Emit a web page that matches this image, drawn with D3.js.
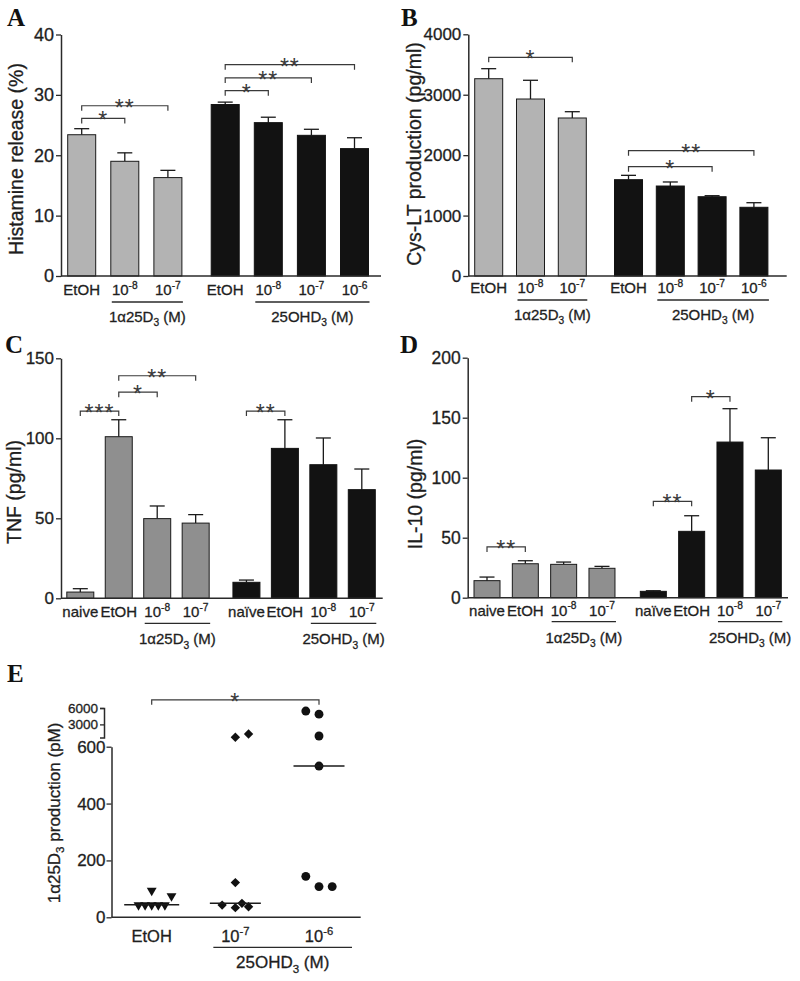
<!DOCTYPE html>
<html><head><meta charset="utf-8">
<script src="https://cdn.jsdelivr.net/npm/d3@7"></script>
<style>body{margin:0;background:#fff}svg{display:block}text{white-space:pre}</style>
</head><body><svg id="c" width="800" height="981"></svg>
<script>
// ---------------- DATA ----------------
// Panel A – Histamine release (%)
const aLabels = ["EtOH","10^-8","10^-7","EtOH","10^-8","10^-7","10^-6"];
const aGroupOf = [0,0,0,1,1,1,1];
const aMeans = [23.4,19.0,16.3,28.4,25.4,23.3,21.1];
const aErrors = [1.0,1.4,1.2,0.4,0.9,1.0,1.8];
const aTicks = [0,10,20,30,40];
const aGroupLabels = ["1α25D_3 (M)","25OHD_3 (M)"];
const aGroupSpans = [[1,2],[4,6]];
const aBrackets = [[0,1,26.1,"*"],[0,2,28.2,"**"],[3,4,30.7,"*"],[3,5,32.8,"**"],[3,6,35.0,"**"]];
const aTitle = "Histamine release (%)";

// Panel B – Cys-LT production (pg/ml)
const bLabels = ["EtOH","10^-8","10^-7","EtOH","10^-8","10^-7","10^-6"];
const bGroupOf = [0,0,0,1,1,1,1];
const bMeans = [3265,2929,2615,1594,1489,1312,1137];
const bErrors = [166,310,104,72,67,17,76];
const bTicks = [0,1000,2000,3000,4000];
const bGroupLabels = ["1α25D_3 (M)","25OHD_3 (M)"];
const bGroupSpans = [[1,2],[4,6]];
const bBrackets = [[0,2,3619,"*"],[3,5,1809,"*"],[3,6,2074,"**"]];
const bTitle = "Cys-LT production (pg/ml)";

// Panel C – TNF (pg/ml)
const cLabels = ["naive","EtOH","10^-8","10^-7","naïve","EtOH","10^-8","10^-7"];
const cGroupOf = [0,0,0,0,1,1,1,1];
const cMeans = [3.9,101,49.8,47,10,93.7,83.5,67.9];
const cErrors = [2.1,10.6,7.9,5.3,1.4,17.9,16.7,12.9];
const cTicks = [0,50,100,150];
const cGroupLabels = ["1α25D_3 (M)","25OHD_3 (M)"];
const cGroupSpans = [[2,3],[6,7]];
const cBrackets = [[0,1,117,"***"],[1,2,128.8,"*"],[1,3,139.1,"**"],[4,5,117,"**"]];
const cTitle = "TNF (pg/ml)";

// Panel D – IL-10 (pg/ml)
const dLabels = ["naive","EtOH","10^-8","10^-7","naïve","EtOH","10^-8","10^-7"];
const dGroupOf = [0,0,0,0,1,1,1,1];
const dMeans = [14.2,28.3,27.8,24.5,5.3,55.3,129.7,106.4];
const dErrors = [3.0,2.5,1.9,1.6,0.5,13.0,27.8,26.9];
const dTicks = [0,50,100,150,200];
const dGroupLabels = ["1α25D_3 (M)","25OHD_3 (M)"];
const dGroupSpans = [[2,3],[6,7]];
const dBrackets = [[0,1,42.3,"**"],[4,5,80.3,"**"],[5,6,167.5,"*"]];
const dTitle = "IL-10 (pg/ml)";

// Panel E – 1α25D3 production (pM), scatter with medians
const eCategories = ["EtOH","10^-7","10^-6"];
const eEtohValues = [94,75,43,43,43,43,43];
const eEtohSlots  = [0,3,-2,-1,0,1,2];
const e7Values = [640,1240,122,43,34,49,37];
const e7Slots  = [0,2,0,-2,0,1,2];
const e6Values = [5445,4869,877,532,144,108,108];
const e6Slots  = [-2,0,0,0,-2,0,2];
const eMedians = [44,49,532];
const eLowerTicks = [0,200,400,600];
const eUpperTicks = [3000,6000];
const eGroupLabel = "25OHD_3 (M)";
const eBracket = [0,2,7500,"*"];
const eTitle = "1α25D_3 production (pM)";

// ---------------- DRAWING ----------------
const FONT = "'Liberation Sans', Arial, Helvetica, sans-serif";
const INK = "#1e1e1e", AX = "#2a2a2a", BR = "#3a3a3a";
const TSTROKE = 0.3;
const svg = d3.select("#c");
const fmt = d3.format("d");

function rich(textSel, str, size){
  const re = /\^(\S+)|_(\S+?)(?=\s|$)|([^\^_]+)/g;
  let m, shift = 0;
  while((m = re.exec(str))){
    if(m[1] !== undefined){
      textSel.append("tspan").attr("font-size", size*0.68).attr("dy", -size*0.42 - shift).text(m[1]);
      shift = -size*0.42;
    } else if(m[2] !== undefined){
      textSel.append("tspan").attr("font-size", size*0.68).attr("dy", size*0.28 - shift).text(m[2]);
      shift = size*0.28;
    } else {
      textSel.append("tspan").attr("font-size", size).attr("dy", -shift).text(m[3]);
      shift = 0;
    }
  }
  return textSel;
}
function label(g, x, y, str, size, opts={}){
  const t = g.append("text").attr("x",x).attr("y",y).attr("font-family",FONT)
    .attr("font-size",size).attr("fill",INK).attr("stroke",INK).attr("stroke-width",TSTROKE)
    .attr("text-anchor",opts.anchor||"middle");
  if(opts.rotate) t.attr("transform",`rotate(-90,${x},${y})`);
  return rich(t, str, size);
}
function panelLetter(x, y, s){
  svg.append("text").attr("x",x).attr("y",y).attr("font-family","'Liberation Serif','Times New Roman',serif")
    .attr("font-weight","bold").attr("font-size",25).attr("fill","#111").text(s);
}
function bracket(g, x1, x2, yy, s){
  g.append("path").attr("d",`M${x1},${yy+5}V${yy}H${x2}V${yy+5}`)
    .attr("fill","none").attr("stroke",BR).attr("stroke-width",1.2);
  g.append("text").attr("x",(x1+x2)/2).attr("y",yy+10).attr("text-anchor","middle")
    .attr("font-family",FONT).attr("font-size",23).attr("letter-spacing",1).attr("fill","#3a3a3a").text(s);
}
function styleAxis(a, size){
  a.attr("font-family",FONT).attr("font-size",size);
  a.select(".domain").attr("stroke",AX).attr("stroke-width",1.5);
  a.selectAll(".tick line").attr("stroke",AX).attr("stroke-width",1.3);
  a.selectAll(".tick text").attr("fill",INK).attr("stroke",INK).attr("stroke-width",TSTROKE);
}

function barPanel(p){
  const g = svg.append("g");
  const n = p.means.length;
  const x = d3.scaleLinear().domain([0, n-1+p.gapFrac]).range(p.centers);
  const pos = i => x(i + (i >= p.gapAt ? p.gapFrac : 0));
  const y = d3.scaleLinear().domain(p.yDomain).range(p.yRange);
  const colors = [p.gray, "#121212"];

  // error bars (upper only)
  const eb = g.selectAll("g.eb").data(p.means).join("g").attr("class","eb");
  eb.append("line").attr("x1",(d,i)=>pos(i)).attr("x2",(d,i)=>pos(i))
    .attr("y1",d=>y(d)).attr("y2",(d,i)=>y(d+p.errors[i]))
    .attr("stroke","#1a1a1a").attr("stroke-width",1.3);
  eb.append("line").attr("x1",(d,i)=>pos(i)-7.5).attr("x2",(d,i)=>pos(i)+7.5)
    .attr("y1",(d,i)=>y(d+p.errors[i])).attr("y2",(d,i)=>y(d+p.errors[i]))
    .attr("stroke","#1a1a1a").attr("stroke-width",1.3);

  // bars
  g.selectAll("rect.bar").data(p.means).join("rect").attr("class","bar")
    .attr("x",(d,i)=>pos(i)-p.barW/2).attr("width",p.barW)
    .attr("y",d=>y(d)).attr("height",d=>y(0)-y(d))
    .attr("fill",(d,i)=>colors[p.groupOf[i]])
    .attr("stroke",(d,i)=>p.groupOf[i]===0?"#1a1a1a":"#121212").attr("stroke-width",1);

  // y axis
  const ax = g.append("g").attr("transform",`translate(${p.axisX[0]},0)`)
    .call(d3.axisLeft(y).tickValues(p.ticks).tickFormat(fmt).tickSize(5).tickPadding(2).tickSizeOuter(0));
  styleAxis(ax, p.tickFont||17);

  // x axis line
  g.append("path").attr("d",d3.line()([[p.axisX[0],y(0)],[p.axisX[1],y(0)]]))
    .attr("stroke",AX).attr("stroke-width",1.5).attr("fill","none");

  // category labels
  p.labels.forEach((s,i)=> label(g, pos(i), y(0)+p.labelDy, s, 15));

  // group underlines + labels
  p.groupSpans.forEach(([a,b],k)=>{
    const x1 = pos(a)-p.barW/2+1, x2 = pos(b)+p.barW/2+1;
    g.append("path").attr("d",d3.line()([[x1,y(0)+p.lineDy],[x2,y(0)+p.lineDy]]))
      .attr("stroke",AX).attr("stroke-width",1.3);
    label(g, (x1+x2)/2, y(0)+p.groupDy, p.groupLabels[k], 15);
  });

  // significance brackets
  p.brackets.forEach(([a,b,lv,s]) => bracket(g, pos(a), pos(b), y(lv), s));

  // y title
  label(g, p.titlePos[0], p.titlePos[1], p.title, 19.5, {rotate:true});
}

barPanel({means:aMeans, errors:aErrors, groupOf:aGroupOf, labels:aLabels, groupLabels:aGroupLabels,
  groupSpans:aGroupSpans, brackets:aBrackets, title:aTitle, ticks:aTicks, tickFont:18,
  yDomain:[0,40], yRange:[276,34.5], centers:[81.7,354.5], gapAt:3, gapFrac:0.33,
  axisX:[61,381], barW:28, gray:"#b3b3b3", labelDy:19, lineDy:26, groupDy:46, titlePos:[23,159]});

barPanel({means:bMeans, errors:bErrors, groupOf:bGroupOf, labels:bLabels, groupLabels:bGroupLabels,
  groupSpans:bGroupSpans, brackets:bBrackets, title:bTitle, ticks:bTicks, tickFont:17,
  yDomain:[0,4000], yRange:[276,34.3], centers:[488.7,753.9], gapAt:3, gapFrac:0.345,
  axisX:[468.3,786.7], barW:28, gray:"#b3b3b3", labelDy:17, lineDy:24, groupDy:44, titlePos:[421,154]});

barPanel({means:cMeans, errors:cErrors, groupOf:cGroupOf, labels:cLabels, groupLabels:cGroupLabels,
  groupSpans:cGroupSpans, brackets:cBrackets, title:cTitle, ticks:cTicks, tickFont:17,
  yDomain:[0,150], yRange:[598.3,358.3], centers:[80.3,361.8], gapAt:4, gapFrac:0.32,
  axisX:[61,382.7], barW:27, gray:"#8f8f8f", labelDy:19, lineDy:25, groupDy:46, titlePos:[21,492]});

barPanel({means:dMeans, errors:dErrors, groupOf:dGroupOf, labels:dLabels, groupLabels:dGroupLabels,
  groupSpans:dGroupSpans, brackets:dBrackets, title:dTitle, ticks:dTicks, tickFont:17.5,
  yDomain:[0,200], yRange:[597.7,357.7], centers:[487,768.3], gapAt:4, gapFrac:0.34,
  axisX:[467.7,788], barW:26, gray:"#8f8f8f", labelDy:18, lineDy:24, groupDy:45, titlePos:[422,494]});

// ---- Panel E ----
(function(){
  const g = svg.append("g");
  const ex = d3.scalePoint().domain(eCategories).range([151.7,319]);
  const yLo = d3.scaleLinear().domain([0,600]).range([917.3,746.7]);
  const yHi = d3.scaleLinear().domain([600,6000]).range([737.5,708]);
  const yE = v => v > 600 ? yHi(v) : yLo(v);
  const slotW = 6.6;
  const axisXLo = 111.5, axisXHi = 104;

  const lo = g.append("g").attr("transform",`translate(${axisXLo},0)`)
    .call(d3.axisLeft(yLo).tickValues(eLowerTicks).tickFormat(fmt).tickSize(5).tickPadding(1).tickSizeOuter(0));
  const hi = g.append("g").attr("transform",`translate(${axisXHi},0)`)
    .call(d3.axisLeft(yHi).tickValues(eUpperTicks).tickFormat(fmt).tickSize(4).tickPadding(2).tickSizeOuter(4));
  styleAxis(lo, 17);
  styleAxis(hi, 13.5);
  g.append("path").attr("d",d3.line()([[axisXLo,yLo(0)],[360.7,yLo(0)]]))
    .attr("stroke",AX).attr("stroke-width",1.5);

  const groups = [
    {vals:eEtohValues, slots:eEtohSlots, sym:"tri"},
    {vals:e7Values, slots:e7Slots, sym:"dia"},
    {vals:e6Values, slots:e6Slots, sym:"circ"}];
  groups.forEach((grp,k)=>{
    const cx = ex(eCategories[k]);
    grp.vals.forEach((v,i)=>{
      const px = cx + grp.slots[i]*slotW, py = yE(v);
      let path, rot = 0;
      if(grp.sym==="tri"){ path = d3.symbol(d3.symbolTriangle, 42)(); rot = 180; }
      else if(grp.sym==="dia"){ path = d3.symbol(d3.symbolSquare, 44)(); rot = 45; }
      else { path = d3.symbol(d3.symbolCircle, 62)(); }
      g.append("path").attr("d",path).attr("fill","#111")
        .attr("transform",`translate(${px},${py}) rotate(${rot})`);
    });
    const mw = k===0 ? 27.5 : 25.5;
    g.append("path").attr("d",d3.line()([[cx-mw,yE(eMedians[k])],[cx+mw,yE(eMedians[k])]]))
      .attr("stroke","#1a1a1a").attr("stroke-width",1.5);
  });

  eCategories.forEach(c => label(g, ex(c), yLo(0)+25, c, 16.5));
  const ux1 = ex(eCategories[1])-22, ux2 = ex(eCategories[2])+33;
  g.append("path").attr("d",d3.line()([[ux1,yLo(0)+30],[ux2,yLo(0)+30]])).attr("stroke",AX).attr("stroke-width",1.3);
  label(g, (ux1+ux2)/2, yLo(0)+51, eGroupLabel, 17);

  bracket(g, ex(eCategories[eBracket[0]]), ex(eCategories[eBracket[1]]), yHi(eBracket[2]), eBracket[3]);
  label(g, 59.5, 813, eTitle, 17, {rotate:true});
})();

panelLetter(7,26,"A");
panelLetter(401,26,"B");
panelLetter(5,353,"C");
panelLetter(400,353,"D");
panelLetter(7,682,"E");
</script>
</body></html>
